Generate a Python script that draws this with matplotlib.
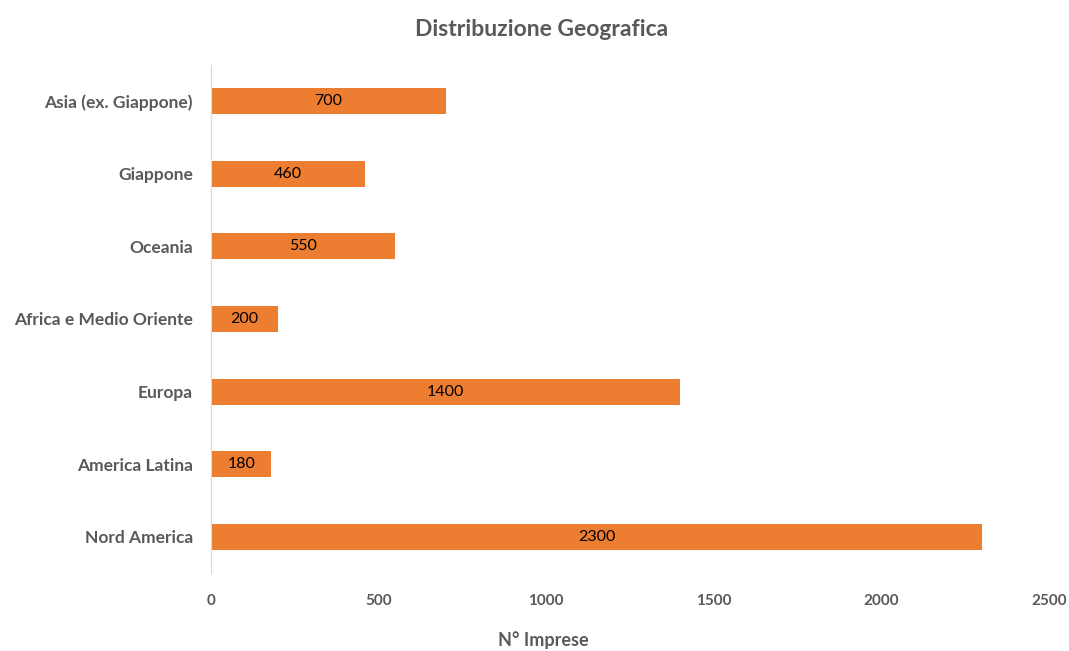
import matplotlib
matplotlib.use('Agg')
import matplotlib.pyplot as plt

plt.rcParams['font.family'] = ['Lato', 'DejaVu Sans']

# regions listed bottom to top, as barh draws them
regions = ['Nord America', 'America Latina', 'Europa', 'Africa e Medio Oriente',
           'Oceania', 'Giappone', 'Asia (ex. Giappone)']
imprese = [2300, 180, 1400, 200, 550, 460, 700]
xticks = [0, 500, 1000, 1500, 2000, 2500]

grey = '#595959'
orange = '#ED7D31'

fig = plt.figure(figsize=(10.69, 6.51), dpi=100)
ax = fig.add_axes([0.1974, 0.1198, 0.7839, 0.7804])

bars = ax.barh(regions, imprese, height=0.36, color=orange)
for bar, val in zip(bars, imprese):
    ax.text(bar.get_x() + bar.get_width() / 2, bar.get_y() + bar.get_height() / 2,
            str(val), ha='center', va='center', fontsize=11.5, color='black')

ax.set_xlim(0, 2500)
ax.set_ylim(-0.5, len(regions) - 0.5)
ax.set_xticks(xticks)
ax.set_xticklabels([str(t) for t in xticks], fontsize=11, fontweight='bold', color=grey)
ax.tick_params(axis='x', length=0, pad=15)
ax.tick_params(axis='y', length=0, pad=13, labelsize=12.5, labelcolor=grey)
for lbl in ax.get_yticklabels():
    lbl.set_fontweight('bold')

for side in ['top', 'right', 'bottom']:
    ax.spines[side].set_visible(False)
ax.spines['left'].set_color('#D9D9D9')

# axis title sits left of the plot centre, under the whole figure's middle
ax.set_xlabel('N° Imprese', fontsize=13, fontweight='bold', color=grey,
              labelpad=17, x=0.396)
fig.text(0.507, 0.954, 'Distribuzione Geografica', ha='center', va='center',
         fontsize=16.5, fontweight='bold', color=grey)

fig.savefig('out.png', dpi=100, facecolor='white')
